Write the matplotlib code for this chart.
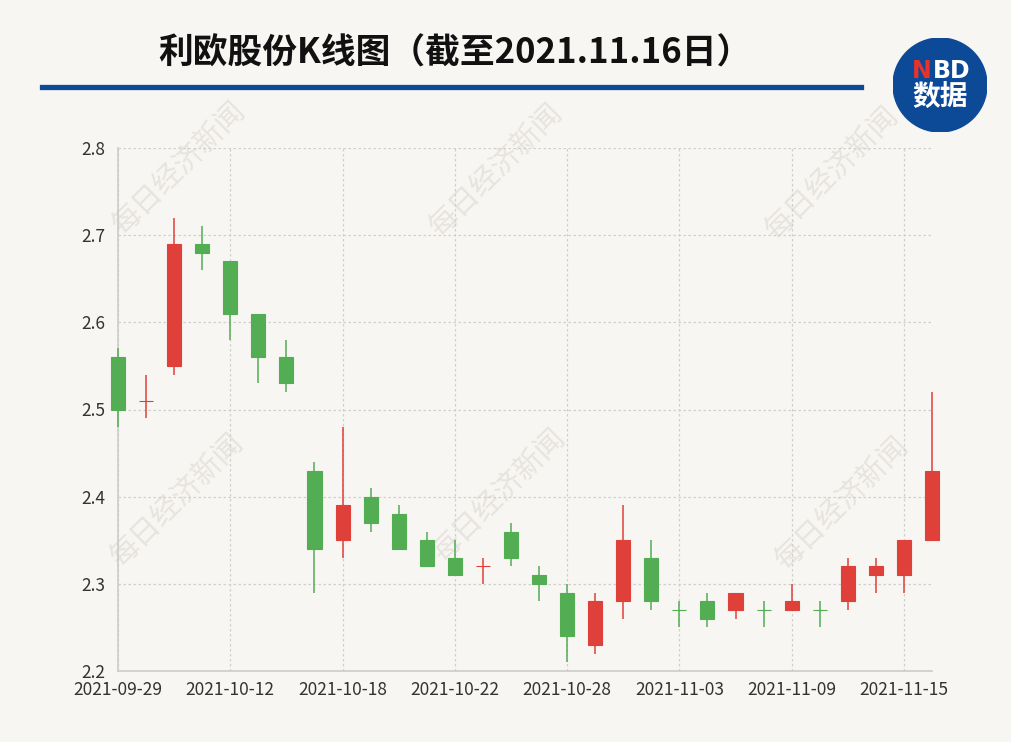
import matplotlib
matplotlib.use("Agg")
import matplotlib.pyplot as plt
from matplotlib.patches import Circle
from matplotlib.lines import Line2D

plt.rcParams['font.family'] = ['Noto Sans CJK SC', 'DejaVu Sans']

dates = ['2021-09-29', '2021-09-30', '2021-10-08', '2021-10-11', '2021-10-12',
         '2021-10-13', '2021-10-14', '2021-10-15', '2021-10-18', '2021-10-19',
         '2021-10-20', '2021-10-21', '2021-10-22', '2021-10-25', '2021-10-26',
         '2021-10-27', '2021-10-28', '2021-10-29', '2021-11-01', '2021-11-02',
         '2021-11-03', '2021-11-04', '2021-11-05', '2021-11-08', '2021-11-09',
         '2021-11-10', '2021-11-11', '2021-11-12', '2021-11-15', '2021-11-16']
opens = [2.56, 2.51, 2.55, 2.69, 2.67, 2.61, 2.56, 2.43, 2.35, 2.40,
         2.38, 2.35, 2.33, 2.32, 2.36, 2.31, 2.29, 2.23, 2.28, 2.33,
         2.27, 2.28, 2.27, 2.27, 2.27, 2.27, 2.28, 2.31, 2.31, 2.35]
closes = [2.50, 2.51, 2.69, 2.68, 2.61, 2.56, 2.53, 2.34, 2.39, 2.37,
          2.34, 2.32, 2.31, 2.32, 2.33, 2.30, 2.24, 2.28, 2.35, 2.28,
          2.27, 2.26, 2.29, 2.27, 2.28, 2.27, 2.32, 2.32, 2.35, 2.43]
highs = [2.57, 2.54, 2.72, 2.71, 2.67, 2.61, 2.58, 2.44, 2.48, 2.41,
         2.39, 2.36, 2.35, 2.33, 2.37, 2.32, 2.30, 2.29, 2.39, 2.35,
         2.28, 2.29, 2.29, 2.28, 2.30, 2.28, 2.33, 2.33, 2.35, 2.52]
lows = [2.48, 2.49, 2.54, 2.66, 2.58, 2.53, 2.52, 2.29, 2.33, 2.36,
        2.34, 2.32, 2.31, 2.30, 2.32, 2.28, 2.21, 2.22, 2.26, 2.27,
        2.25, 2.25, 2.26, 2.25, 2.27, 2.25, 2.27, 2.29, 2.29, 2.35]
yticks = [2.2, 2.3, 2.4, 2.5, 2.6, 2.7, 2.8]

up_col = '#e0403a'
down_col = '#52ad53'
bg = '#f8f6f2'

fig = plt.figure(figsize=(10.12, 7.42), dpi=100, facecolor=bg)
W, H = 1012, 742
ax = fig.add_axes([118 / W, 1 - 671 / H, 814 / W, 523 / H])
ax.set_facecolor('none')

x = list(range(len(dates)))
colors = []
for o, c in zip(opens, closes):
    if c > o:
        colors.append(up_col)
    elif c < o:
        colors.append(down_col)
    else:
        colors.append(None)
# doji colour: red when close >= previous close, otherwise green
for i in range(len(colors)):
    if colors[i] is None:
        prev = closes[i - 1] if i > 0 else opens[i]
        colors[i] = up_col if closes[i] >= prev else down_col

ax.vlines(x, lows, highs, colors=colors, linewidth=1.1, zorder=3, clip_on=False)
bottoms = [min(o, c) for o, c in zip(opens, closes)]
heights = [abs(c - o) for o, c in zip(opens, closes)]
ax.bar(x, heights, bottom=bottoms, width=0.5, color=colors, edgecolor=colors,
       linewidth=0.8, zorder=4, clip_on=False)

ax.set_xlim(0, len(dates) - 1)
ax.set_ylim(2.2, 2.8)
ax.set_yticks(yticks)
ax.set_yticklabels([f'{v:.1f}' for v in yticks])
tick_idx = list(range(0, len(dates), 4))
ax.set_xticks(tick_idx)
ax.set_xticklabels([dates[i] for i in tick_idx])
ax.tick_params(length=0, labelsize=12.5, colors='#333333')
ax.tick_params(axis='y', pad=9)
ax.tick_params(axis='x', pad=7)
ax.grid(True, color='#cfcfcf', linestyle=(0, (2, 2)), linewidth=0.9, zorder=1)
for s in ['top', 'right']:
    ax.spines[s].set_visible(False)
for s in ['left', 'bottom']:
    ax.spines[s].set_color('#cccccc')
    ax.spines[s].set_linewidth(1.2)

# title and rule
fig.text(455 / W, 1 - 53 / H, '利欧股份K线图（截至2021.11.16日）', fontsize=25,
         fontweight='bold', ha='center', va='center', color='#111111')
fig.add_artist(Line2D([42 / W, 861 / W], [1 - 86.5 / H, 1 - 86.5 / H],
                      color='#0c4a97', linewidth=3.8))

# watermarks
for cx, cy in [(180, 168), (497, 170), (833, 173), (178, 500), (500, 495), (843, 503)]:
    fig.text(cx / W, 1 - cy / H, '每日经济新闻', fontsize=21, rotation=45,
             ha='center', va='center', color='#e7e4df', zorder=-1)

# logo
lax = fig.add_axes([893 / W, 1 - 132 / H, 94 / W, 94 / H])
lax.set_xlim(0, 1)
lax.set_ylim(0, 1)
lax.axis('off')
lax.add_patch(Circle((0.5, 0.5), 0.5, color='#0c4a97'))
lax.text(0.415, 0.65, 'N', color='#e8322b', fontsize=17, fontweight='bold',
         ha='right', va='center', family='DejaVu Sans')
lax.text(0.42, 0.65, 'BD', color='white', fontsize=17, fontweight='bold',
         ha='left', va='center', family='DejaVu Sans')
lax.text(0.5, 0.36, '数据', color='white', fontsize=20, fontweight='bold',
         ha='center', va='center')

fig.savefig('out.png', dpi=100, facecolor=bg)
